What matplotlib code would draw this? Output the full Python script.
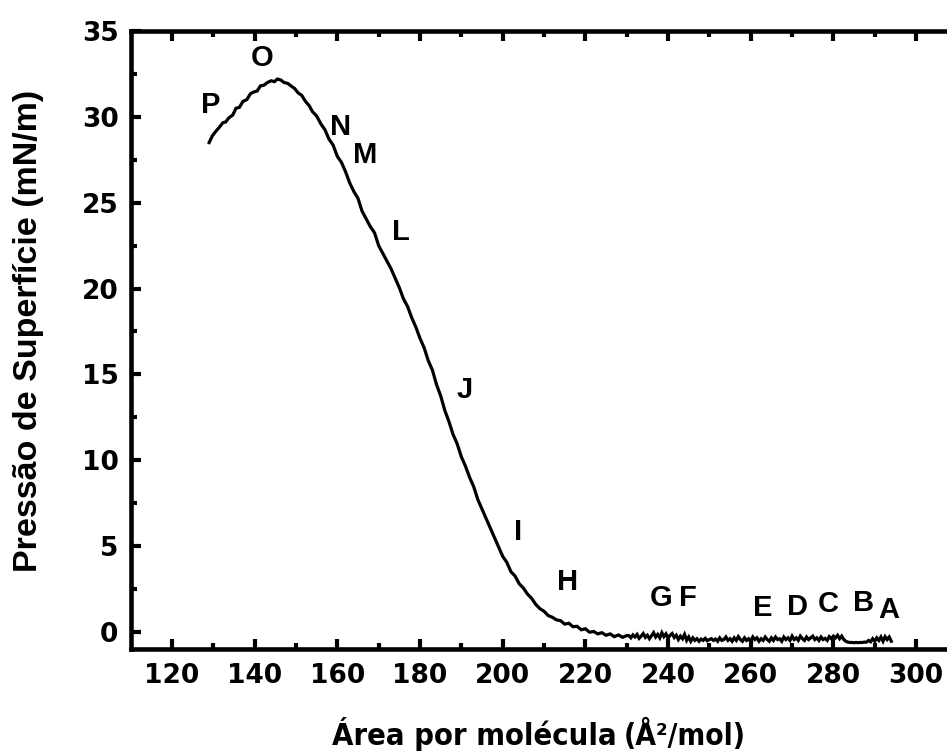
import matplotlib
matplotlib.use("Agg")
import matplotlib.pyplot as plt
from matplotlib.ticker import MultipleLocator
from matplotlib import font_manager

# ---------------- data ----------------
area_main = [129.0, 129.8, 130.6, 131.5, 132.3, 133.0, 133.8, 134.7, 135.5, 136.3,
             137.2, 138.1, 139.0, 139.8, 140.6, 141.4, 142.3, 143.1, 144.0, 144.8,
             145.5, 146.3, 147.1, 148.0, 148.8, 149.7, 150.5, 151.4, 152.3, 153.2,
             154.0, 155.0, 156.0, 157.0, 158.0, 159.0, 160.0, 161.0, 162.0, 163.0,
             164.0, 165.0, 166.0, 167.0, 168.0, 169.0, 170.0, 171.0, 172.0, 173.0,
             174.0, 175.0, 176.0, 177.0, 178.0, 179.0, 180.0, 181.0, 182.0, 183.0,
             184.0, 185.0, 186.0, 187.0, 188.0, 189.0, 190.0, 191.0, 192.0, 193.0,
             194.0, 195.0, 196.0, 197.0, 198.0, 199.0, 200.0, 201.0, 202.0, 203.0,
             204.0, 205.0, 206.0, 207.0, 208.0, 209.0, 210.0, 211.0, 212.0, 213.0,
             214.0, 215.0, 216.0, 217.0, 218.0, 219.0, 220.0, 221.0, 222.0, 223.0,
             224.0, 225.0, 226.0, 227.0, 228.0, 229.0, 230.0]

pressure_main = [28.5, 28.9, 29.15, 29.4, 29.65, 29.7, 29.95, 30.1, 30.5, 30.55,
                 30.9, 31.0, 31.35, 31.45, 31.5, 31.8, 31.85, 32.0, 32.1, 32.05,
                 32.2, 32.15, 32.0, 31.95, 31.8, 31.65, 31.4, 31.25, 30.9, 30.65,
                 30.3, 30.05, 29.6, 29.25, 28.7, 28.35, 27.7, 27.35, 26.8, 26.15,
                 25.65, 25.25, 24.5, 24.05, 23.6, 23.25, 22.5, 22.05, 21.6, 21.15,
                 20.6, 20.05, 19.4, 18.95, 18.3, 17.75, 17.1, 16.55, 15.8, 15.25,
                 14.4, 13.75, 12.9, 12.25, 11.5, 10.95, 10.2, 9.65, 9.0, 8.45,
                 7.7, 7.15, 6.6, 6.05, 5.5, 4.95, 4.4, 4.05, 3.5, 3.25,
                 2.8, 2.55, 2.2, 1.95, 1.6, 1.35, 1.2, 0.95, 0.85, 0.7,
                 0.65, 0.45, 0.5, 0.3, 0.32, 0.12, 0.18, -0.02, 0.02, -0.12,
                 -0.05, -0.2, -0.12, -0.28, -0.18, -0.32, -0.22]

# plateau region (area, pressure) read at half-unit spacing
tail = [(230.5, -0.22), (231.0, -0.35), (231.5, -0.18), (232.0, -0.30),
        (232.5, -0.15), (233.0, -0.38), (233.5, -0.25), (234.0, -0.10),
        (234.5, -0.32), (235.0, -0.20), (235.5, -0.40), (236.0, -0.22),
        (236.5, -0.05), (237.0, -0.30), (237.5, -0.15), (238.0, -0.35),
        (238.5, -0.05), (239.0, -0.28), (239.5, -0.12), (240.0, -0.38),
        (240.5, -0.20), (241.0, -0.10), (241.5, -0.33), (242.0, -0.20),
        (242.5, -0.45), (243.0, -0.25), (243.5, -0.40), (244.0, -0.15),
        (244.5, -0.50), (245.0, -0.30), (245.5, -0.55), (246.0, -0.35),
        (246.5, -0.50), (247.0, -0.40), (247.5, -0.55), (248.0, -0.42),
        (248.5, -0.50), (249.0, -0.38), (249.5, -0.52), (250.0, -0.45),
        (250.5, -0.40), (251.0, -0.50), (251.5, -0.42), (252.0, -0.55),
        (252.5, -0.35), (253.0, -0.50), (253.5, -0.45), (254.0, -0.30),
        (254.5, -0.50), (255.0, -0.40), (255.5, -0.55), (256.0, -0.35),
        (256.5, -0.50), (257.0, -0.28), (257.5, -0.45), (258.0, -0.55),
        (258.5, -0.35), (259.0, -0.50), (259.5, -0.40), (260.0, -0.55),
        (260.5, -0.30), (261.0, -0.45), (261.5, -0.35), (262.0, -0.55),
        (262.5, -0.40), (263.0, -0.50), (263.5, -0.30), (264.0, -0.45),
        (264.5, -0.55), (265.0, -0.35), (265.5, -0.50), (266.0, -0.30),
        (266.5, -0.45), (267.0, -0.40), (267.5, -0.55), (268.0, -0.30),
        (268.5, -0.45), (269.0, -0.35), (269.5, -0.50), (270.0, -0.25),
        (270.5, -0.45), (271.0, -0.35), (271.5, -0.50), (272.0, -0.25),
        (272.5, -0.40), (273.0, -0.50), (273.5, -0.30), (274.0, -0.45),
        (274.5, -0.35), (275.0, -0.25), (275.5, -0.45), (276.0, -0.35),
        (276.5, -0.50), (277.0, -0.30), (277.5, -0.45), (278.0, -0.38),
        (278.5, -0.50), (279.0, -0.28), (279.5, -0.40), (280.0, -0.25),
        (280.5, -0.35), (281.0, -0.20), (281.5, -0.40), (282.0, -0.25),
        (282.5, -0.45), (283.0, -0.55), (283.5, -0.60), (284.0, -0.62),
        (284.5, -0.62), (285.0, -0.63), (285.5, -0.62), (286.0, -0.63),
        (286.5, -0.62), (287.0, -0.62), (287.5, -0.60), (288.0, -0.60),
        (288.5, -0.50), (289.0, -0.58), (289.5, -0.40), (290.0, -0.55),
        (290.5, -0.35), (291.0, -0.50), (291.5, -0.30), (292.0, -0.55),
        (292.5, -0.28), (293.0, -0.45), (293.5, -0.30), (294.0, -0.55)]

point_labels = ["P", "O", "N", "M", "L", "J", "I", "H",
                "G", "F", "E", "D", "C", "B", "A"]
label_x = [129.3, 141.7, 160.9, 166.8, 175.4, 190.9, 203.7, 215.6,
           238.2, 244.9, 263.0, 271.2, 278.7, 287.2, 293.3]
label_y = [30.7, 33.4, 29.4, 27.8, 23.3, 14.1, 5.8, 2.9,
           2.0, 2.0, 1.4, 1.45, 1.6, 1.7, 1.3]

x_ticks = [120, 140, 160, 180, 200, 220, 240, 260, 280, 300]
y_ticks = [0, 5, 10, 15, 20, 25, 30, 35]

area = area_main + [p[0] for p in tail]
pressure = pressure_main + [p[1] for p in tail]

# ---------------- fonts ----------------
has_cond = any(f.name == "DejaVu Sans" and f.stretch == "condensed"
               for f in font_manager.fontManager.ttflist)
xl_stretch = "condensed" if has_cond else "normal"

W, H = 947, 753
fig = plt.figure(figsize=(W / 100, H / 100), dpi=100)
ax = fig.add_axes([131 / W, 1 - 649 / H, (950 - 131) / W, (649 - 31) / H])

ax.plot(area, pressure, color="black", lw=2.3, solid_joinstyle="miter")

ax.set_xlim(110.1, 308.2)
ax.set_ylim(-1, 35)
ax.set_xticks(x_ticks)
ax.set_yticks(y_ticks)
ax.xaxis.set_minor_locator(MultipleLocator(10))
ax.yaxis.set_minor_locator(MultipleLocator(2.5))

for s in ax.spines.values():
    s.set_linewidth(3.3)

ax.tick_params(which="major", direction="in", length=7.5, width=3,
               top=True, right=False, labelsize=19, pad=10)
ax.tick_params(which="minor", direction="in", length=4, width=3,
               top=True, right=False)
ax.tick_params(axis="y", which="major", pad=9)

for lab in ax.get_xticklabels() + ax.get_yticklabels():
    lab.set_fontfamily("DejaVu Sans")
    lab.set_fontweight("bold")

for t, x, y in zip(point_labels, label_x, label_y):
    ax.text(x, y, t, ha="center", va="center", fontsize=21,
            fontweight="bold", family="Liberation Sans")

fig.text(29 / W, 1 - 331 / H, "Pressão de Superfície (mN/m)", rotation=90,
         ha="center", va="center", fontsize=24.5, fontweight="bold",
         family="Liberation Sans")

t1 = fig.text(332 / W, 1 - 745 / H, "Área por molécula", ha="left",
              va="baseline", fontsize=20, fontweight="bold",
              family="DejaVu Sans", fontstretch=xl_stretch)
t2 = fig.text(624 / W, 1 - 745 / H, "(Å²/mol)", ha="left", va="baseline",
              fontsize=16, fontweight="bold", family="DejaVu Sans",
              fontstretch=xl_stretch)

# fit the x-label pieces to the widths seen in the reference
fig.canvas.draw()
r = fig.canvas.get_renderer()
for t, target in ((t1, 285.0), (t2, 123.0)):
    w = t.get_window_extent(r).width
    t.set_fontsize(t.get_fontsize() * target / w)

fig.savefig("out.png", dpi=100)
